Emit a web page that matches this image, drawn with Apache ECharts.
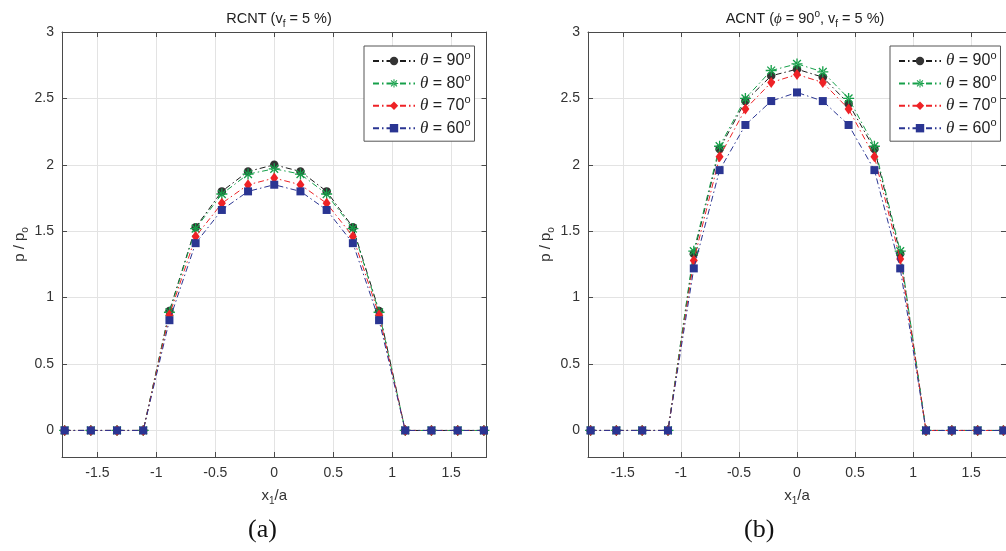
<!DOCTYPE html>
<html>
<head>
<meta charset="utf-8">
<script src="https://cdn.jsdelivr.net/npm/echarts@6/dist/echarts.min.js"></script>
<style>
html,body{margin:0;padding:0;background:#fff;}
#chart{width:1006px;height:551px;}
</style>
</head>
<body>
<div id="chart"></div>
<script>
// ---- data ----
const xValues = [-1.7778,-1.5556,-1.3333,-1.1111,-0.8889,-0.6667,-0.4444,-0.2222,0,0.2222,0.4444,0.6667,0.8889,1.1111,1.3333,1.5556,1.7778];
const thetaNames = ['90','80','70','60'];
// panel (a) RCNT
const a90 = [0,0,0,0,0.90,1.53,1.80,1.95,2.00,1.95,1.80,1.53,0.90,0,0,0,0];
const a80 = [0,0,0,0,0.89,1.52,1.78,1.93,1.97,1.93,1.78,1.52,0.89,0,0,0,0];
const a70 = [0,0,0,0,0.87,1.46,1.71,1.85,1.90,1.85,1.71,1.46,0.87,0,0,0,0];
const a60 = [0,0,0,0,0.83,1.41,1.66,1.80,1.85,1.80,1.66,1.41,0.83,0,0,0,0];
// panel (b) ACNT
const b90 = [0,0,0,0,1.33,2.12,2.48,2.67,2.72,2.66,2.46,2.12,1.33,0,0,0,0];
const b80 = [0,0,0,0,1.35,2.14,2.50,2.71,2.76,2.70,2.50,2.14,1.35,0,0,0,0];
const b70 = [0,0,0,0,1.28,2.06,2.42,2.62,2.68,2.62,2.42,2.06,1.29,0,0,0,0];
const b60 = [0,0,0,0,1.22,1.96,2.30,2.48,2.545,2.48,2.30,1.96,1.22,0,0,0,0];

const xMin = -1.8, xMax = 1.8, yMin = -0.2, yMax = 3;

// ---- styles ----
const colors = ['#1c1c1c','#16a04a','#ee2226','#2a3592'];
const markerColors = ['#333333','#16a04a','#ee2226','#2a3592'];
const asterisk = 'path://M-0.6,-5L0.6,-5L0.6,5L-0.6,5Z M-5,-0.6L5,-0.6L5,0.6L-5,0.6Z M-3.11,-3.96L3.96,3.11L3.11,3.96L-3.96,-3.11Z M-3.11,3.96L3.96,-3.11L3.11,-3.96L-3.96,3.11Z';
const symbols = ['circle', asterisk, 'diamond', 'rect'];
const symbolSizes = [8.5, 11, [8,11], 8];
const dash = [6,3,1.5,3];
const FONT = 'Liberation Sans, Arial, Helvetica, sans-serif';

function pairs(ys){ return xValues.map((x,i)=>[x, ys[i]]); }

const grids = [
  {left:62, top:32, width:424.5, height:425},
  {left:588, top:32, width:425, height:425}
];

const xAxes = [], yAxes = [];
[0,1].forEach(g=>{
  xAxes.push({
    type:'value', gridIndex:g, min:xMin, max:xMax, splitNumber:7, position:'bottom',
    axisLine:{show:true, onZero:false, lineStyle:{color:'#4a4a4a', width:1}},
    axisTick:{show:true, inside:true, length:5, lineStyle:{color:'#4a4a4a'}},
    axisLabel:{show:true, showMinLabel:false, showMaxLabel:false, margin:9, color:'#333', fontSize:14, fontFamily:FONT},
    splitLine:{show:true, lineStyle:{color:'#e3e3e3', width:1}},
    name:'x{sub|1}/a', nameLocation:'middle', nameGap:29,
    nameTextStyle:{color:'#333', fontSize:15, fontFamily:FONT, lineHeight:20,
      rich:{sub:{fontSize:10, fontFamily:FONT, color:'#333', verticalAlign:'bottom', lineHeight:12}}}
  });
  xAxes.push({
    type:'value', gridIndex:g, min:xMin, max:xMax, splitNumber:7, position:'top',
    axisLine:{show:true, onZero:false, lineStyle:{color:'#4a4a4a', width:1}},
    axisTick:{show:true, inside:true, length:5, lineStyle:{color:'#4a4a4a'}},
    axisLabel:{show:false}, splitLine:{show:false}
  });
  yAxes.push({
    type:'value', gridIndex:g, min:yMin, max:yMax, splitNumber:7, position:'left',
    axisLine:{show:true, onZero:false, lineStyle:{color:'#4a4a4a', width:1}},
    axisTick:{show:true, inside:true, length:5, lineStyle:{color:'#4a4a4a'}},
    axisLabel:{show:true, showMinLabel:false, margin:8, color:'#333', fontSize:14, fontFamily:FONT},
    splitLine:{show:true, lineStyle:{color:'#e3e3e3', width:1}},
    name:'p / p{sub|o}', nameLocation:'middle', nameGap:32,
    nameTextStyle:{color:'#333', fontSize:15, fontFamily:FONT, lineHeight:20,
      rich:{sub:{fontSize:10, fontFamily:FONT, color:'#333', verticalAlign:'bottom', lineHeight:12}}}
  });
  yAxes.push({
    type:'value', gridIndex:g, min:yMin, max:yMax, splitNumber:7, position:'right',
    axisLine:{show:true, onZero:false, lineStyle:{color:'#4a4a4a', width:1}},
    axisTick:{show:true, inside:true, length:5, lineStyle:{color:'#4a4a4a'}},
    axisLabel:{show:false}, splitLine:{show:false}
  });
});

const panelData = [[a90,a80,a70,a60],[b90,b80,b70,b60]];
const series = [];
panelData.forEach((arrs, p)=>{
  arrs.forEach((ys, k)=>{
    series.push({
      type:'line', name:thetaNames[k],
      xAxisIndex:p*2, yAxisIndex:p*2,
      data:pairs(ys),
      symbol:symbols[k], symbolSize:symbolSizes[k],
      showAllSymbol:true,
      lineStyle:{color:colors[k], width:1, type:dash},
      itemStyle:{color:markerColors[k], borderWidth:0},
      emphasis:{disabled:true},
      animation:false, z:2+k
    });
  });
});

const legendCommon = {
  orient:'vertical',
  backgroundColor:'#fff',
  borderColor:'#555', borderWidth:1,
  padding:[4,4,2,8],
  itemWidth:42, itemHeight:10.5, itemGap:0.4,
  selectedMode:false,
  data:thetaNames,
  formatter: n => '{i|θ} = ' + n + '{sup|o}',
  textStyle:{color:'#222', fontSize:16, fontFamily:FONT, lineHeight:22,
    rich:{
      i:{fontFamily:'Liberation Serif, DejaVu Serif, serif', fontStyle:'italic', fontSize:17, color:'#222', lineHeight:22},
      sup:{fontSize:11, fontFamily:FONT, color:'#222', verticalAlign:'top', lineHeight:11}
    }}
};

const titleRich = {
  sub:{fontSize:10, fontFamily:FONT, color:'#222', verticalAlign:'bottom', lineHeight:12},
  sup:{fontSize:10, fontFamily:FONT, color:'#222', verticalAlign:'top', lineHeight:10},
  i:{fontFamily:'Liberation Serif, DejaVu Serif, serif', fontStyle:'italic', fontSize:15, color:'#222'}
};

const option = {
  animation:false,
  backgroundColor:'#fff',
  title:[
    {text:'RCNT (v{sub|f} = 5 %)', left:274, top:4, textAlign:'center',
     textStyle:{fontSize:14.5, fontWeight:'normal', color:'#222', fontFamily:FONT, lineHeight:20, rich:titleRich}},
    {text:'ACNT ({i|ϕ} = 90{sup|o}, v{sub|f} = 5 %)', left:800, top:4, textAlign:'center',
     textStyle:{fontSize:14.5, fontWeight:'normal', color:'#222', fontFamily:FONT, lineHeight:20, rich:titleRich}}
  ],
  grid:grids,
  xAxis:xAxes,
  yAxis:yAxes,
  legend:[
    Object.assign({left:364, top:46}, legendCommon),
    Object.assign({left:890, top:46}, legendCommon)
  ],
  graphic:[
    {type:'text', left:248, top:517, style:{text:'(a)', fontSize:26, fontFamily:'Liberation Serif, Times New Roman, serif', fill:'#111'}},
    {type:'text', left:744, top:517, style:{text:'(b)', fontSize:26, fontFamily:'Liberation Serif, Times New Roman, serif', fill:'#111'}}
  ],
  series:series
};

const chart = echarts.init(document.getElementById('chart'), null, {renderer:'canvas'});
chart.setOption(option);
</script>
</body>
</html>
